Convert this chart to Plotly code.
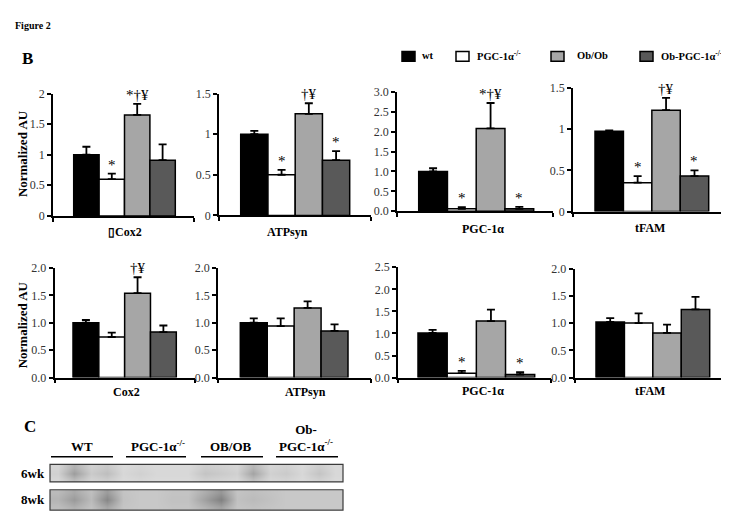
import plotly.graph_objects as go

W, H = 729, 515

# ---------------- data ----------------
series_names = ["wt", "PGC-1α<sup>-/-</sup>", "Ob/Ob", "Ob-PGC-1α<sup>-/-</sup>"]
series_colors = ["#000000", "#ffffff", "#a6a6a6", "#595959"]

panel_labels = ["▯Cox2", "ATPsyn", "PGC-1α", "tFAM", "Cox2", "ATPsyn", "PGC-1α", "tFAM"]

wt_mean   = [1.00, 1.00, 1.00, 0.975, 1.00, 1.00, 1.01, 1.02]
wt_sem    = [0.13, 0.04, 0.08, 0.01, 0.05, 0.08, 0.07, 0.07]
ko_mean   = [0.60, 0.50, 0.06, 0.35, 0.74, 0.94, 0.10, 1.00]
ko_sem    = [0.09, 0.06, 0.04, 0.08, 0.08, 0.14, 0.05, 0.18]
ob_mean   = [1.65, 1.25, 2.08, 1.23, 1.54, 1.27, 1.28, 0.82]
ob_sem    = [0.18, 0.13, 0.64, 0.15, 0.29, 0.12, 0.26, 0.15]
obko_mean = [0.91, 0.68, 0.06, 0.43, 0.83, 0.85, 0.07, 1.25]
obko_sem  = [0.26, 0.11, 0.05, 0.07, 0.12, 0.12, 0.05, 0.23]

wt_sig   = ["", "", "", "", "", "", "", ""]
ko_sig   = ["*", "*", "*", "*", "", "", "*", ""]
ob_sig   = ["*†¥", "†¥", "*†¥", "†¥", "†¥", "", "", ""]
obko_sig = ["", "*", "*", "*", "", "", "*", ""]

y_max = [2, 1.5, 3.0, 1.5, 2.0, 2.0, 2.5, 2.0]
y_fmt = ["", "", ".1f", "", ".1f", ".1f", ".1f", ".1f"]

blot_groups = ["WT", "PGC-1α<sup>-/-</sup>", "OB/OB", "Ob-<br>PGC-1α<sup>-/-</sup>"]
blot_rows = ["6wk", "8wk"]
blot_6wk_band = [0.10, 0.50, 0.15, 0.25, 0.05, 0.10, 0.05, 0.05, 0.05,
                 0.20, 0.15, 0.10, 0.45, 0.10, 0.15, 0.05, 0.20, 0.05]
blot_8wk_band = [0.15, 0.35, 0.10, 0.50, 0.05, 0.00, 0.00, 0.05, 0.05,
                 0.30, 0.55, 0.05, 0.10, 0.05, 0.00, 0.00, 0.00, 0.00]

# ---------------- layout geometry (pixels) ----------------
# (y-axis x, x-axis end, bars start, bars end, zero y, top y)
geom = [
    (45.0, 186.0, 65.7, 167.3, 206.5, 80.7),
    (211.0, 362.7, 232.7, 341.7, 206.0, 80.7),
    (389.0, 545.0, 410.7, 525.7, 201.7, 79.0),
    (565.0, 721.0, 587.0, 700.7, 202.0, 75.0),
    (46.5, 187.0, 65.0, 168.3, 372.7, 260.0),
    (210.0, 363.0, 232.3, 340.0, 372.7, 260.0),
    (390.0, 543.0, 410.0, 526.7, 372.7, 259.3),
    (566.5, 721.7, 588.0, 701.7, 372.7, 260.7),
]
label_pos = [(117, 223), (279, 223), (475, 220), (642, 219),
             (118.5, 388), (297, 388), (474.5, 387), (642, 387)]

SERIF = "Liberation Serif"


def px(x):
    return x / W


def py(y):
    return 1 - y / H


fig = go.Figure()
annotations = []
shapes = []
layout_axes = {}

for p in range(8):
    ax = "" if p == 0 else str(p + 1)
    x0, x1, b0, b1, yz, yt = geom[p]
    unit = (b1 - b0) / 4.0
    lo = -0.5 - (b0 - x0) / unit
    hi = 3.5 + (x1 - b1) / unit
    means = [wt_mean[p], ko_mean[p], ob_mean[p], obko_mean[p]]
    sems = [wt_sem[p], ko_sem[p], ob_sem[p], obko_sem[p]]
    sigs = [wt_sig[p], ko_sig[p], ob_sig[p], obko_sig[p]]
    fig.add_trace(go.Bar(
        x=[0, 1, 2, 3], y=means, width=1,
        marker=dict(color=series_colors, line=dict(color="black", width=1.5)),
        error_y=dict(type="data", symmetric=False, array=sems,
                     arrayminus=[0, 0, 0, 0], color="black", thickness=1.8, width=4),
        xaxis="x" + ax, yaxis="y" + ax, showlegend=False, hoverinfo="skip",
    ))
    layout_axes["xaxis" + ax] = dict(
        domain=[px(x0), px(x1)], range=[lo, hi], anchor="y" + ax,
        showgrid=False, zeroline=False, showline=True, linecolor="black", linewidth=1.5,
        tickvals=[lo, hi], ticks="outside", ticklen=4, tickwidth=1.5, tickcolor="black",
        showticklabels=False, fixedrange=True,
    )
    layout_axes["yaxis" + ax] = dict(
        domain=[py(yz), py(yt)], range=[0, y_max[p]], anchor="x" + ax,
        showgrid=False, zeroline=False, showline=True, linecolor="black", linewidth=1.5,
        dtick=0.5, tick0=0, tickformat=y_fmt[p], ticks="outside", ticklen=4,
        tickwidth=1.5, tickcolor="black",
        tickfont=dict(family=SERIF, size=12, color="#333333"), fixedrange=True,
    )
    for j in range(4):
        if sigs[j]:
            annotations.append(dict(
                x=j, y=means[j] + sems[j], xref="x" + ax, yref="y" + ax,
                text=sigs[j], showarrow=False, yanchor="bottom", yshift=-1,
                font=dict(family=SERIF, size=15, color="black"),
            ))
    lx, ly = label_pos[p]
    annotations.append(dict(
        x=px(lx), y=py(ly), xref="paper", yref="paper", text="<b>%s</b>" % panel_labels[p],
        showarrow=False, xanchor="center", yanchor="middle",
        font=dict(family=SERIF, size=12, color="black"),
    ))

# y-axis titles
for cy in (143, 319):
    annotations.append(dict(
        x=px(14), y=py(cy), xref="paper", yref="paper", text="<b>Normalized AU</b>",
        textangle=-90, showarrow=False, xanchor="center", yanchor="middle",
        font=dict(family=SERIF, size=13, color="black"),
    ))

# figure / panel labels
annotations.append(dict(x=px(5), y=py(11), xref="paper", yref="paper", text="<b>Figure 2</b>",
                        showarrow=False, xanchor="left", yanchor="middle",
                        font=dict(family=SERIF, size=10, color="black")))
annotations.append(dict(x=px(12), y=py(45), xref="paper", yref="paper", text="<b>B</b>",
                        showarrow=False, xanchor="left", yanchor="middle",
                        font=dict(family=SERIF, size=17, color="black")))
annotations.append(dict(x=px(14), y=py(423), xref="paper", yref="paper", text="<b>C</b>",
                        showarrow=False, xanchor="left", yanchor="middle",
                        font=dict(family=SERIF, size=17, color="black")))

# legend (manual)
legend_sq_x = [394, 448, 543, 632]
legend_tx_x = [412, 467, 567, 651]
for k in range(4):
    sx = legend_sq_x[k]
    shapes.append(dict(type="rect", xref="paper", yref="paper",
                       x0=px(sx), x1=px(sx + 13), y0=py(47.5), y1=py(37.5),
                       fillcolor=series_colors[k], line=dict(color="black", width=1.5)))
    annotations.append(dict(x=px(legend_tx_x[k]), y=py(42), xref="paper", yref="paper",
                            text="<b>%s</b>" % series_names[k], showarrow=False,
                            xanchor="left", yanchor="middle",
                            font=dict(family=SERIF, size=10.5, color="black")))

# blot group headers
grp_cx = [74, 150, 223, 298]
grp_line = [(43, 105), (118, 178), (193, 255), (268, 330)]
for k in range(4):
    annotations.append(dict(x=px(grp_cx[k]), y=py(453), xref="paper", yref="paper",
                            text="<b>%s</b>" % blot_groups[k], showarrow=False,
                            xanchor="center", yanchor="bottom",
                            font=dict(family=SERIF, size=13, color="black")))
    a, b = grp_line[k]
    shapes.append(dict(type="line", xref="paper", yref="paper", x0=px(a), x1=px(b),
                       y0=py(454), y1=py(454), line=dict(color="black", width=1.5)))

# blot images
blot_boxes = [(462, 480, blot_6wk_band, 222), (488, 509, blot_8wk_band, 200)]
row_fac = [0.55, 1.0, 0.7]
for i, (t, b, band, bg) in enumerate(blot_boxes):
    n = str(9 + i)
    z = [[bg - f * v * 130 for v in band] for f in row_fac]
    fig.add_trace(go.Heatmap(
        z=z, x=list(range(len(band))), y=[0, 1, 2], zmin=0, zmax=255,
        colorscale=[[0, "black"], [1, "white"]], showscale=False, zsmooth="best",
        xaxis="x" + n, yaxis="y" + n, hoverinfo="skip",
    ))
    layout_axes["xaxis" + n] = dict(domain=[px(42), px(335)], range=[-0.5, len(band) - 0.5],
                                    anchor="y" + n, visible=False, fixedrange=True)
    layout_axes["yaxis" + n] = dict(domain=[py(b), py(t)], range=[-0.5, 2.5],
                                    anchor="x" + n, visible=False, fixedrange=True)
    shapes.append(dict(type="rect", xref="paper", yref="paper", x0=px(42), x1=px(335),
                       y0=py(b), y1=py(t), line=dict(color="#3a3a3a", width=1.2)))
    annotations.append(dict(x=px(39), y=py((t + b) / 2), xref="paper", yref="paper",
                            text="<b>%s</b>" % blot_rows[i], showarrow=False,
                            xanchor="right", yanchor="middle",
                            font=dict(family=SERIF, size=13, color="black")))

fig.update_layout(
    width=W, height=H, margin=dict(l=0, r=0, t=0, b=0),
    paper_bgcolor="white", plot_bgcolor="rgba(0,0,0,0)",
    showlegend=False, barmode="overlay",
    font=dict(family=SERIF),
    annotations=annotations, shapes=shapes,
    **layout_axes,
)

fig.write_html("out.html")
